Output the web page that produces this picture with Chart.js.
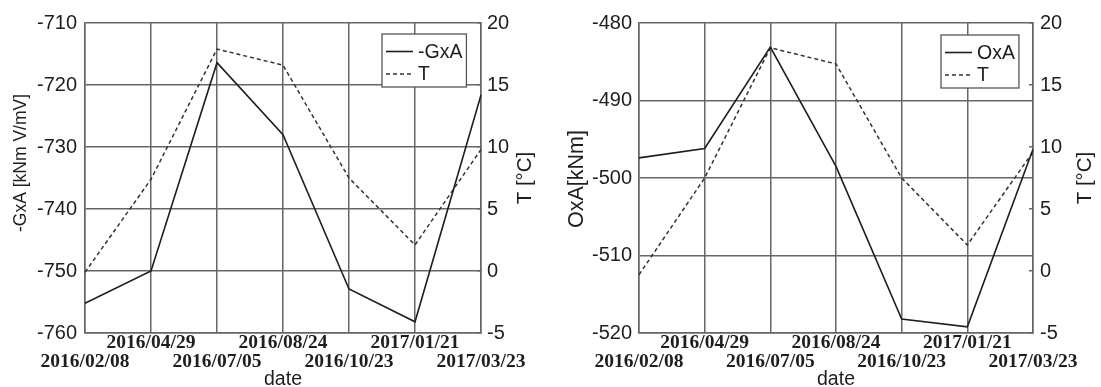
<!DOCTYPE html>
<html><head><meta charset="utf-8">
<script src="https://cdn.jsdelivr.net/npm/chart.js@4"></script>
<style>
body{margin:0;background:#fff;width:1101px;height:387px;overflow:hidden;position:relative}
canvas{position:absolute;top:0}
</style></head>
<body>
<canvas id="c1" width="550" height="387" style="left:0"></canvas>
<canvas id="c2" width="551" height="387" style="left:550px"></canvas>
<script>
// ---- data ----
const dates = ['2016/02/08','2016/04/29','2016/07/05','2016/08/24','2016/10/23','2017/01/21','2017/03/23'];
const gxa = [-755.2, -750.0, -716.4, -728.0, -752.9, -758.2, -721.6];
const tempLeft = [-0.1, 7.4, 17.9, 16.6, 7.5, 2.1, 9.8];
const oxa = [-497.4, -496.2, -483.1, -498.5, -518.2, -519.2, -496.3];
const tempRight = [-0.3, 7.5, 18.0, 16.7, 7.5, 2.1, 9.6];
const gxaAxis = [-760, -710, 10];
const oxaAxis = [-520, -480, 10];
const tempAxis = [-5, 20, 5];

const SANS = '"Liberation Sans", Arial, sans-serif';
const SERIF = '"Liberation Serif", "Times New Roman", serif';
const GRID = '#666';
const INK = '#1e1e1e';

const insideLegend = {
  id: 'insideLegend',
  afterDatasetsDraw(chart, args, opts) {
    const ctx = chart.ctx, ca = chart.chartArea;
    ctx.save();
    ctx.font = '19.5px ' + SANS;
    const ds = chart.data.datasets;
    const tw = Math.max(...ds.map(d => ctx.measureText(d.label).width));
    const w = 4 + 27 + 5 + tw + 4;
    const h = 53;
    const x = Math.round(ca.right - opts.right - w), y = Math.round(ca.top + opts.top);
    ctx.fillStyle = '#fff';
    ctx.fillRect(x, y, w, h);
    ctx.strokeStyle = '#555';
    ctx.lineWidth = 1.3;
    ctx.strokeRect(x, y, w, h);
    ds.forEach((d, i) => {
      const cy = y + 17.5 + i * 22.5;
      ctx.beginPath();
      ctx.setLineDash(d.borderDash || []);
      ctx.strokeStyle = d.borderColor;
      ctx.lineWidth = d.borderWidth;
      ctx.moveTo(x + 4, cy);
      ctx.lineTo(x + 31, cy);
      ctx.stroke();
      ctx.setLineDash([]);
      ctx.fillStyle = INK;
      ctx.textBaseline = 'middle';
      ctx.textAlign = 'left';
      ctx.fillText(d.label, x + 36, cy + 1);
    });
    ctx.restore();
  }
};

// vertical axis titles, both reading bottom-to-top
const axisTitles = {
  id: 'axisTitles',
  afterDraw(chart, args, opts) {
    const ctx = chart.ctx;
    (opts.items || []).forEach(t => {
      ctx.save();
      ctx.translate(t.x, t.y);
      ctx.rotate(-Math.PI / 2);
      ctx.font = t.size + 'px ' + SANS;
      ctx.fillStyle = INK;
      ctx.textAlign = 'center';
      ctx.textBaseline = 'middle';
      ctx.fillText(t.text, 0, 0);
      ctx.restore();
    });
  }
};

function makeChart(id, cfg) {
  return new Chart(document.getElementById(id), {
    type: 'line',
    data: {
      labels: dates,
      datasets: [
        { label: cfg.name, data: cfg.values, yAxisID: 'y', borderColor: INK, borderWidth: 1.6,
          pointRadius: 0, tension: 0, fill: false },
        { label: 'T', data: cfg.temps, yAxisID: 'y1', borderColor: '#333', borderWidth: 1.5,
          borderDash: [4, 3], pointRadius: 0, tension: 0, fill: false }
      ]
    },
    options: {
      responsive: false,
      animation: false,
      devicePixelRatio: 1,
      layout: { padding: { top: 23, left: 0, right: 0, bottom: 0 } },
      plugins: {
        legend: { display: false },
        tooltip: { enabled: false },
        insideLegend: { right: cfg.legRight, top: cfg.legTop },
        axisTitles: { items: [
          { text: cfg.yTitle, x: cfg.yTitleX, y: cfg.yTitleY, size: cfg.yTitleSize },
          { text: 'T [°C]', x: cfg.tTitleX, y: 178, size: 20.5 }
        ] }
      },
      scales: {
        x: {
          type: 'category',
          offset: false,
          grid: { color: GRID, lineWidth: 1.5, drawTicks: false },
          border: { color: GRID, width: 1.5 },
          ticks: {
            autoSkip: false, maxRotation: 0, minRotation: 0, padding: 1,
            color: INK,
            font: { family: SERIF, size: 19.5, weight: 'bold', lineHeight: 0.97 },
            callback: function (value, index) {
              const l = this.getLabelForValue(value);
              return index % 2 === 0 ? ['', l] : l;
            }
          },
          title: { display: true, text: 'date', color: INK, padding: 0,
                   font: { family: SANS, size: 19.5, lineHeight: 0.74 } },
          afterFit: s => { s.height = 54; }
        },
        y: {
          position: 'left',
          min: cfg.axis[0], max: cfg.axis[1],
          grid: { color: GRID, lineWidth: 1.5, drawTicks: false },
          border: { color: GRID, width: 1.5 },
          ticks: { stepSize: cfg.axis[2], padding: cfg.leftPad, color: INK,
                   font: { family: SANS, size: 20 } },
          afterFit: s => { s.width = cfg.leftW; }
        },
        y1: {
          position: 'right',
          min: tempAxis[0], max: tempAxis[1],
          grid: { drawOnChartArea: false, drawTicks: true, tickLength: -4, color: GRID, lineWidth: 1.5 },
          border: { color: GRID, width: 1.5 },
          ticks: { stepSize: tempAxis[2], padding: cfg.rightPad, color: INK,
                   font: { family: SANS, size: 20 } },
          afterFit: s => { s.width = cfg.rightW; }
        }
      }
    },
    plugins: [insideLegend, axisTitles]
  });
}

makeChart('c1', {
  name: '-GxA', values: gxa, temps: tempLeft, axis: gxaAxis,
  yTitle: '-GxA [kNm V/mV]', yTitleSize: 17.5, yTitleX: 21, yTitleY: 163,
  tTitleX: 525,
  leftW: 85, rightW: 69, leftPad: 8, rightPad: 10,
  legRight: 15, legTop: 11
});
makeChart('c2', {
  name: 'OxA', values: oxa, temps: tempRight, axis: oxaAxis,
  yTitle: 'OxA[kNm]', yTitleSize: 21.5, yTitleX: 27, yTitleY: 179,
  tTitleX: 535,
  leftW: 89, rightW: 68, leftPad: 7, rightPad: 11,
  legRight: 14, legTop: 12
});
</script>
</body></html>
